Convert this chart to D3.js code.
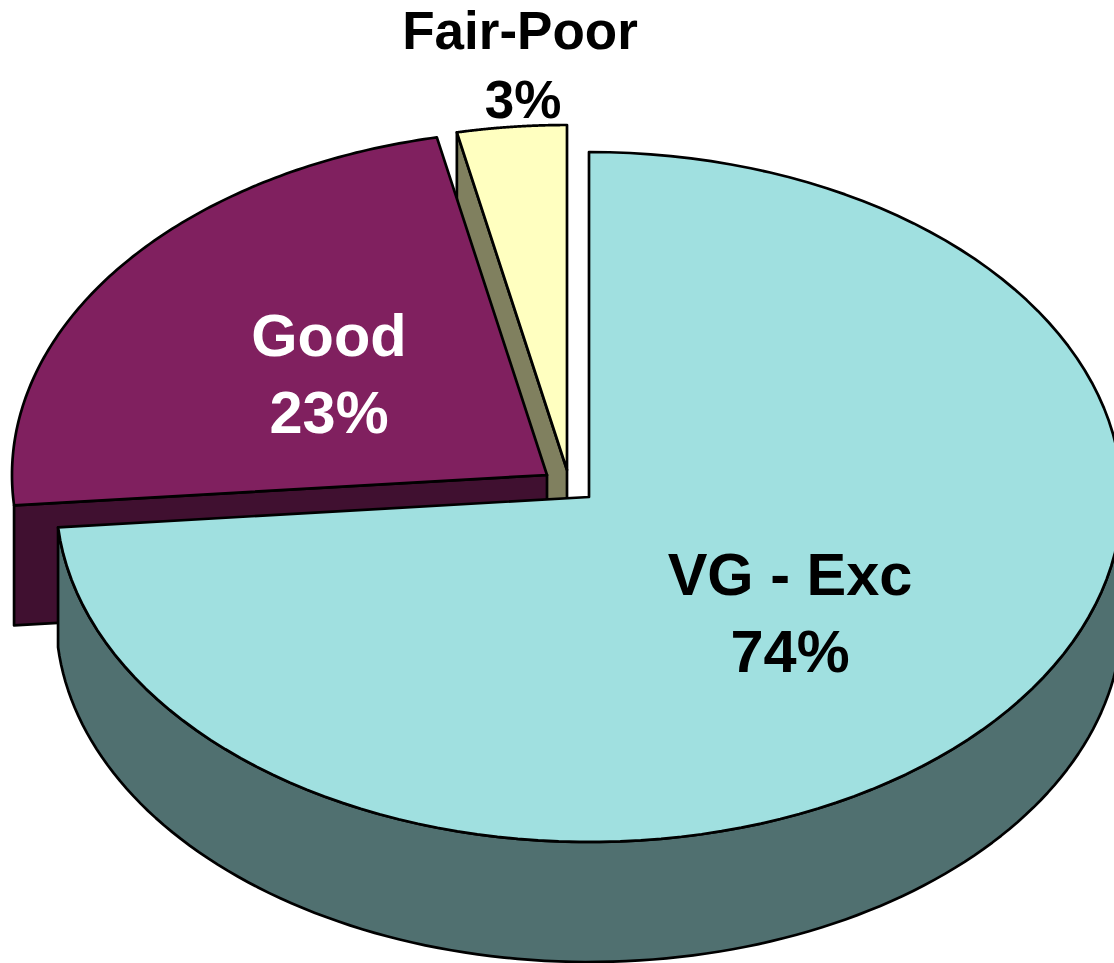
<!DOCTYPE html>
<html><head><meta charset="utf-8">
<script src="https://cdn.jsdelivr.net/npm/d3@7"></script>
<style>html,body{margin:0;padding:0;background:#fff;overflow:hidden}svg{display:block}
text{font-family:"Liberation Sans",Arial,sans-serif;font-weight:700;text-anchor:middle}</style>
</head><body><svg id="c" width="1114" height="963"></svg>
<script>
const categories = ["VG - Exc", "Good", "Fair-Poor"];
const shares = [73.6, 23.1, 3.3];
const percentLabels = ["74%", "23%", "3%"];
const topColors = ["#A0E0E0", "#80205F", "#FFFFC0"];
const sideColors = ["#507070", "#401030", "#80805F"];
const textColors = ["#000", "#fff", "#000"];

const radiiX = [533, 535, 535], ry = 345, depth = 120;
const centers = [[589, 497], [547, 475], [567, 470]];
const labelPos = [[790, 595, 672], [329, 356, 433], [520, 49, 118]];
const percentX = [790, 329, 523];
const labelSizes = [59.5, 59.5, 53];

const svg = d3.select("#c");
const arcs = d3.pie().sort(null).value(d => d)(shares);
const line = d3.line();
const pt = (i, a, dz = 0) => [centers[i][0] + radiiX[i] * Math.sin(a), centers[i][1] - ry * Math.cos(a) + dz];
const rim = (i, a0, a1, dz = 0) => d3.range(0, 121).map(k => pt(i, a0 + (a1 - a0) * k / 120, dz));
const style = s => s.attr("stroke", "#000").attr("stroke-width", 2.7).attr("stroke-linejoin", "round");
const poly = (pts, fill) => svg.append("path").attr("d", line(pts) + "Z").attr("fill", fill).call(style);

// Fair-Poor: visible cut face, then top
{
  const a = arcs[2], c = centers[2];
  const p = pt(2, a.startAngle);
  poly([p, c, [c[0], c[1] + depth], [p[0], p[1] + depth]], sideColors[2]);
  poly([c, ...rim(2, a.startAngle, a.endAngle)], topColors[2]);
}
// Good: front cut face, then top
{
  const a = arcs[1], c = centers[1];
  const p = pt(1, a.startAngle);
  poly([p, c, [c[0], c[1] + depth], [p[0], p[1] + depth]], sideColors[1]);
  poly([c, ...rim(1, a.startAngle, a.endAngle)], topColors[1]);
}
// VG - Exc: outer wall, then top
{
  const a = arcs[0], c = centers[0];
  const front = rim(0, Math.PI / 2, a.endAngle);
  const back = rim(0, a.endAngle, Math.PI / 2, depth);
  poly([...front, ...back], sideColors[0]);
  poly([c, ...rim(0, a.startAngle, a.endAngle)], topColors[0]);
}
categories.forEach((name, i) => {
  const [x, y1, y2] = labelPos[i];
  svg.append("text").attr("x", x).attr("y", y1).attr("font-size", labelSizes[i]).attr("fill", textColors[i]).text(name);
  svg.append("text").attr("x", percentX[i]).attr("y", y2).attr("font-size", labelSizes[i]).attr("fill", textColors[i]).text(percentLabels[i]);
});
</script></body></html>
